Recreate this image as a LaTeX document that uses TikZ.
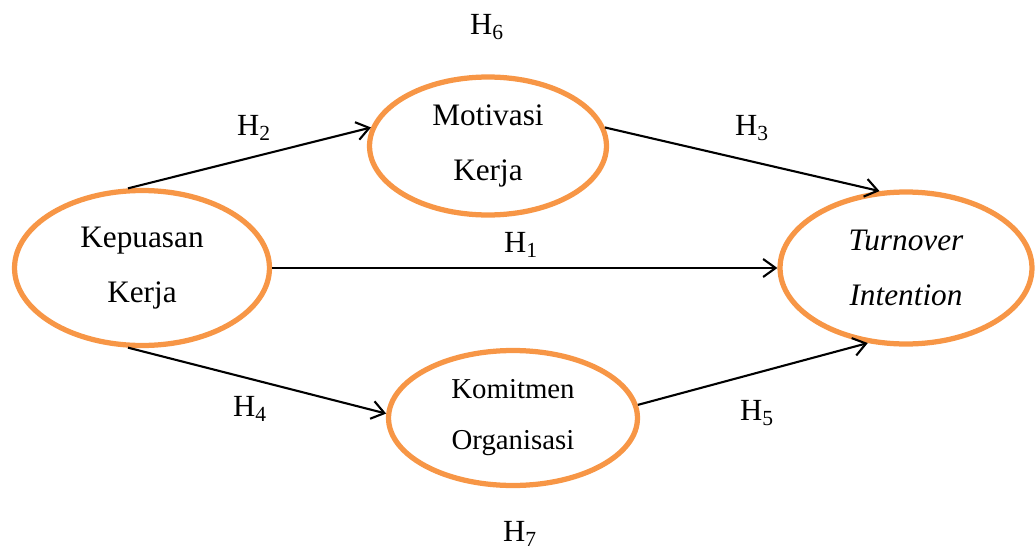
\documentclass[tikz,border=0pt]{standalone}
\usepackage{fontspec}
\setmainfont{Liberation Serif}
\usetikzlibrary{arrows.meta,shapes.geometric}
\definecolor{varorange}{HTML}{F79646}
\begin{document}
\begin{tikzpicture}[x=.02cm,y=-.02cm,>={Straight Barb[length=2.5mm,width=3.6mm]},
	var/.style={ellipse,draw=varorange,line width=1.05mm,align=center,font=\fontsize{17.8}{31.5}\selectfont},
	hyp/.style={font=\fontsize{17.5}{20}\selectfont},
	path/.style={->,line width=.42mm}]
	\useasboundingbox (0,0) rectangle (1035,551);
	\node[var,minimum width=5.1cm,minimum height=3.1cm] (kk) at (142,268) {Kepuasan\\Kerja};
	\node[var,minimum width=4.74cm,minimum height=2.76cm] (mk) at (488,146) {Motivasi\\Kerja};
	\node[var,minimum width=5.04cm,minimum height=3.04cm] (ti) at (906,268) {\itshape Turnover\\\itshape Intention};
	\node[var,minimum width=4.98cm,minimum height=2.7cm,font=\fontsize{16.4}{29}\selectfont] (ko) at (513,418) {Komitmen\\Organisasi};
	\draw[path] (kk.100)--(mk.171);
	\draw[path] (mk.9)--(ti.109);
	\draw[path] (kk.east)--(ti.west);
	\draw[path] (kk.260)--(ko.178);
	\draw[path] (ko.6)--(ti.243);
	\node[hyp] (h1) at (521,245) {H\textsubscript{1}};
	\node[hyp] (h2) at (254,128) {H\textsubscript{2}};
	\node[hyp] (h3) at (752,128) {H\textsubscript{3}};
	\node[hyp] (h4) at (250,409) {H\textsubscript{4}};
	\node[hyp] (h5) at (757,413) {H\textsubscript{5}};
	\node[hyp] (h6) at (487,27) {H\textsubscript{6}};
	\node[hyp] (h7) at (520,534) {H\textsubscript{7}};
\end{tikzpicture}
\end{document}
